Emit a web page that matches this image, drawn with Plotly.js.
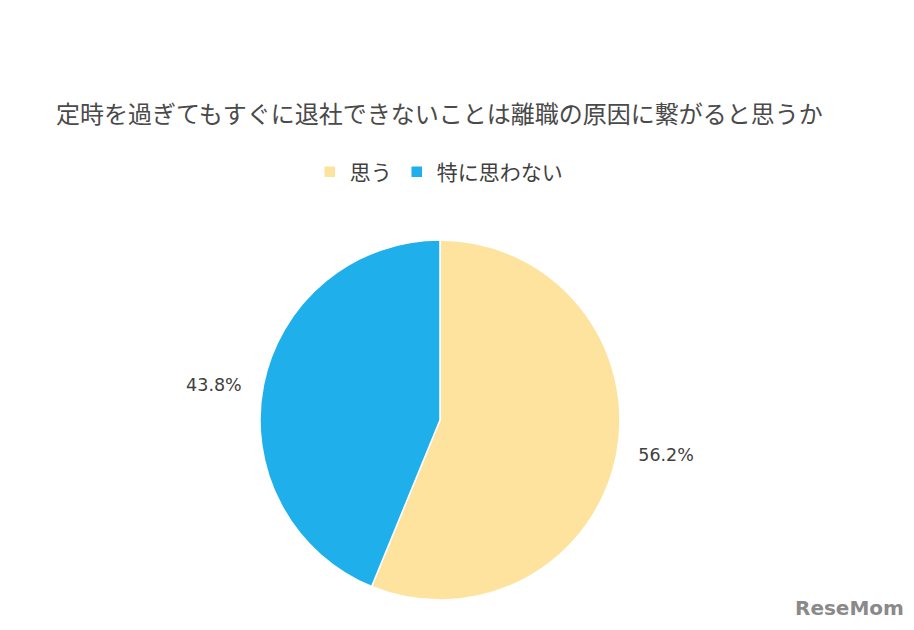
<!DOCTYPE html>
<html>
<head>
<meta charset="utf-8">
<script src="https://cdn.plot.ly/plotly-3.0.1.min.js"></script>
<style>html,body{margin:0;padding:0;background:#fff;}#chart{width:914px;height:630px;}</style>
</head>
<body>
<div id="chart"></div>
<script>
const titleText = '定時を過ぎてもすぐに退社できないことは離職の原因に繋がると思うか';
const categories = ['思う', '特に思わない'];
const values = [56.2, 43.8];
const colors = ['#FDE39D', '#1FB0EC'];

const W = 914, H = 630;
const trace = {
  type: 'pie',
  labels: categories,
  values: values,
  sort: false,
  direction: 'clockwise',
  rotation: 0,
  marker: {colors: colors, line: {color: '#ffffff', width: 1.5}},
  textposition: 'outside',
  texttemplate: '\u00a0\u00a0\u00a0%{value:.1f}%\u00a0\u00a0\u00a0',
  textfont: {family: 'DejaVu Sans, sans-serif', size: 17.5, color: '#404040'},
  hoverinfo: 'label+percent',
  domain: {x: [260 / W, 620 / W], y: [30 / H, 390 / H]}
};

const layout = {
  width: W, height: H,
  margin: {l: 0, r: 0, t: 0, b: 0},
  paper_bgcolor: '#ffffff',
  plot_bgcolor: '#ffffff',
  font: {family: 'Noto Sans CJK JP, sans-serif', color: '#404040'},
  title: {
    text: titleText,
    x: 56 / W, xanchor: 'left',
    y: 1 - 115 / H, yanchor: 'middle',
    font: {family: 'Noto Sans CJK JP, sans-serif', size: 24, color: '#4a4a4a'}
  },
  showlegend: true,
  legend: {
    orientation: 'h',
    x: 0.48, xanchor: 'center',
    y: 1 - 172 / H, yanchor: 'middle',
    font: {family: 'Noto Sans CJK JP, sans-serif', size: 21, color: '#404040'},
    itemwidth: 30,
    traceorder: 'normal'
  },
  annotations: [{
    text: '<b>ReseMom</b>',
    x: 1 - 8 / W, xanchor: 'right', xref: 'paper',
    y: 22 / H, yanchor: 'middle', yref: 'paper',
    showarrow: false,
    font: {family: 'DejaVu Sans, sans-serif', size: 20, color: '#8a8a8a'}
  }]
};

Plotly.newPlot('chart', [trace], layout, {displayModeBar: false, staticPlot: true});
</script>
</body>
</html>
